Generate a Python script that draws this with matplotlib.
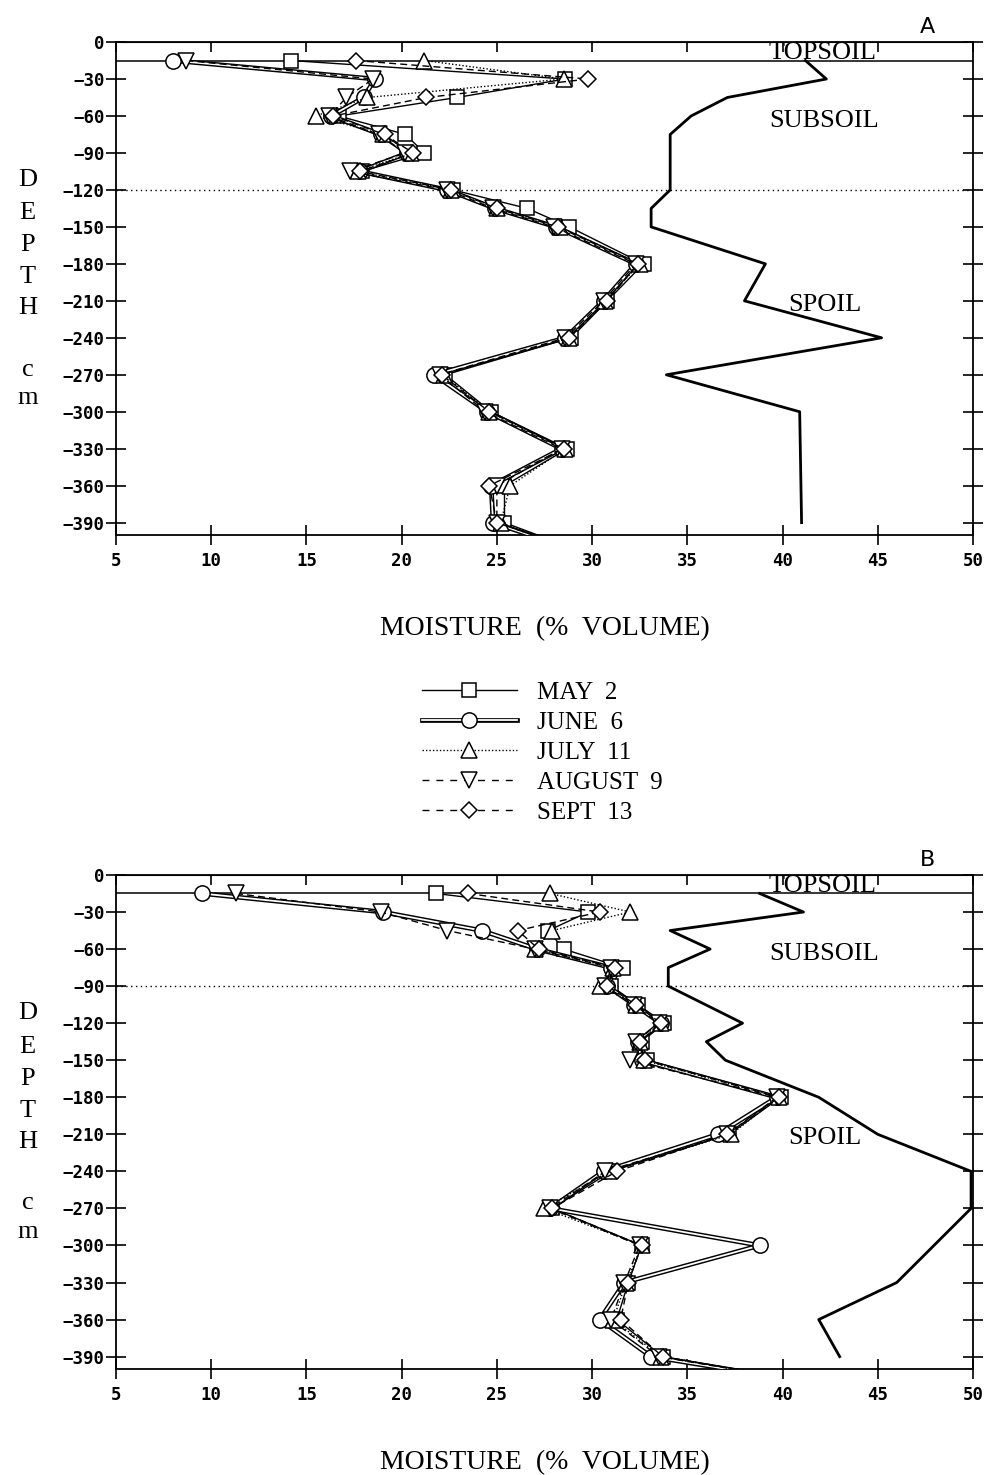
import matplotlib
matplotlib.use('Agg')
import matplotlib.pyplot as plt
from matplotlib.lines import Line2D
from matplotlib.legend_handler import HandlerTuple
import matplotlib.transforms as mtransforms

plt.rcParams['font.family'] = ['DejaVu Sans Mono']
SERIF = 'Liberation Serif'

# sampling depths (cm)
depth = [-15, -30, -45, -60, -75, -90, -105, -120, -135, -150,
         -180, -210, -240, -270, -300, -330, -360, -390, -420]

# panel A moisture (% volume)
A_may = [14.2, 28.6, 22.9, 16.7, 20.2, 21.2, 17.9, 22.7, 26.6, 28.8, 32.7, 30.8, 28.9, 22.3, 24.7, 28.7, 25.4, 25.4, 30.6]
A_june = [8.0, 18.6, 18.0, 16.3, 18.9, 20.3, 17.8, 22.4, 24.9, 28.1, 32.3, 30.6, 28.6, 21.7, 24.5, 28.4, 24.7, 24.8, 30.6]
A_july = [21.2, 28.5, 18.2, 15.5, 19.0, 20.5, 17.7, 22.6, 25.0, 28.3, 32.5, 30.7, 28.8, 22.2, 24.6, 28.6, 25.7, 25.2, 30.6]
A_aug = [8.7, 18.5, 17.1, 16.2, 18.8, 20.2, 17.3, 22.4, 24.8, 28.0, 32.3, 30.6, 28.6, 22.0, 24.4, 28.4, 25.0, 25.0, 30.6]
A_sept = [17.6, 29.8, 21.3, 16.4, 19.1, 20.6, 17.8, 22.6, 25.0, 28.2, 32.4, 30.8, 28.8, 22.1, 24.6, 28.5, 24.6, 25.0, 30.6]
A_ref_depth = [-15, -30, -45, -60, -75, -120, -135, -150, -180, -210, -240, -270, -300, -390]
A_ref = [41.2, 42.3, 37.1, 35.2, 34.1, 34.1, 33.1, 33.1, 39.1, 38.0, 45.2, 33.9, 40.9, 41.0]

# panel B moisture (% volume)
B_may = [21.8, 29.8, 27.7, 28.5, 31.6, 31.0, 32.4, 33.8, 32.6, 32.9, 39.9, 37.2, 31.0, 27.9, 32.6, 31.9, 31.3, 33.7, 45.0]
B_june = [9.5, 19.0, 24.2, 27.1, 31.0, 30.8, 32.2, 33.6, 32.4, 32.6, 39.7, 36.6, 30.6, 27.8, 38.8, 31.7, 30.4, 33.1, 45.0]
B_july = [27.8, 32.0, 27.9, 27.0, 31.1, 30.4, 32.3, 33.6, 32.5, 32.7, 39.8, 37.3, 30.9, 27.5, 32.6, 31.8, 31.1, 33.6, 45.0]
B_aug = [11.3, 18.9, 22.4, 27.0, 31.0, 30.7, 32.2, 33.5, 32.3, 32.0, 39.7, 37.1, 30.7, 27.8, 32.5, 31.7, 31.0, 33.5, 45.0]
B_sept = [23.5, 30.4, 26.1, 27.2, 31.2, 30.8, 32.3, 33.6, 32.5, 32.8, 39.8, 37.1, 31.3, 27.9, 32.6, 31.9, 31.5, 33.7, 45.0]
B_ref_depth = [-15, -30, -45, -60, -75, -90, -120, -135, -150, -180, -210, -240, -270, -330, -360, -390]
B_ref = [38.8, 41.1, 34.1, 36.2, 34.0, 34.0, 37.9, 36.0, 37.0, 41.9, 45.0, 49.9, 49.9, 46.0, 41.9, 43.0]

labels = ['MAY  2', 'JUNE  6', 'JULY  11', 'AUGUST  9', 'SEPT  13']
xticks = [5, 10, 15, 20, 25, 30, 35, 40, 45, 50]
yticks = [0, -30, -60, -90, -120, -150, -180, -210, -240, -270, -300, -330, -360, -390]

mk = dict(mfc='white', mec='black', mew=1.1)


def panel(ax, vals, ref_d, ref_v, boundary, letter):
    may, june, july, aug, sept = vals
    ax.plot(ref_v, ref_d, color='black', lw=2.0, zorder=2)
    ax.axhline(-15, color='black', lw=1.1, zorder=2)
    ax.axhline(boundary, color='black', lw=1.0, ls=(0, (1, 2.5)), zorder=2)

    ax.plot(may, depth, color='black', lw=1.0, marker='s', ms=10, zorder=3, **mk)
    ax.plot(june, depth, color='black', lw=3.4, zorder=4)
    ax.plot(june, depth, color='white', lw=1.3, zorder=4)
    ax.plot(june, depth, ls='none', marker='o', ms=11, zorder=4, **mk)
    ax.plot(july, depth, color='black', lw=1.0, ls=(0, (1, 1.5)), marker='^', ms=11, zorder=5, **mk)
    ax.plot(aug, depth, color='black', lw=1.0, ls=(0, (5, 3)), marker='v', ms=11, zorder=6, **mk)
    ax.plot(sept, depth, color='black', lw=1.0, ls=(0, (5, 3)), marker='D', ms=8, zorder=7, **mk)

    ax.set_xlim(5, 50)
    ax.set_ylim(-400, 0)
    ax.set_xticks(xticks)
    ax.set_yticks(yticks)
    for s in ax.spines.values():
        s.set_linewidth(1.3)
    ax.tick_params(axis='y', left=True, right=True, direction='inout',
                   length=14, width=1.2, labelsize=12.5, pad=1)
    ax.tick_params(axis='x', bottom=True, top=False, direction='inout',
                   length=14, width=1.2, labelsize=12.5, pad=5)
    for lbl in ax.get_xticklabels() + ax.get_yticklabels():
        lbl.set_fontweight('bold')
    top = ax.secondary_xaxis('top')
    top.set_xticks(xticks)
    top.tick_params(direction='in', length=7, width=1.2, labeltop=False)

    ax.text(42.1, -9, 'TOPSOIL', family=SERIF, size=19, ha='center', va='center', zorder=8)
    ax.text(42.2, -64, 'SUBSOIL', family=SERIF, size=19, ha='center', va='center', zorder=8)
    ax.text(42.2, -213, 'SPOIL', family=SERIF, size=19, ha='center', va='center', zorder=8)
    ax.text(0.947, 1.03, letter, transform=ax.transAxes, family='DejaVu Sans',
            size=16, ha='center', va='center')

    tr = mtransforms.blended_transform_factory(ax.transAxes, ax.transData)
    for ch, d in zip(['D', 'E', 'P', 'T', 'H', 'c', 'm'],
                     [-112, -139, -165, -191, -216, -266, -289]):
        ax.text(-0.103, d, ch, transform=tr, family=SERIF, size=19,
                ha='center', va='center')

    ax.text(0.5, -0.19, 'MOISTURE  (%  VOLUME)', transform=ax.transAxes,
            family=SERIF, size=20, ha='center', va='center')


fig = plt.figure(figsize=(9.87, 14.75), dpi=100)
axA = fig.add_axes([0.1175, 0.6373, 0.8683, 0.3342])
axB = fig.add_axes([0.1175, 0.0719, 0.8683, 0.3349])

panel(axA, [A_may, A_june, A_july, A_aug, A_sept], A_ref_depth, A_ref, -120, 'A')
panel(axB, [B_may, B_june, B_july, B_aug, B_sept], B_ref_depth, B_ref, -90, 'B')

handles = [
    Line2D([], [], color='black', lw=1.0, marker='s', ms=10, **mk),
    (Line2D([], [], color='black', lw=3.4), Line2D([], [], color='white', lw=1.3),
     Line2D([], [], ls='none', marker='o', ms=11, **mk)),
    Line2D([], [], color='black', lw=1.0, ls=(0, (1, 1.5)), marker='^', ms=11, **mk),
    Line2D([], [], color='black', lw=1.0, ls=(0, (5, 5)), marker='v', ms=11, **mk),
    Line2D([], [], color='black', lw=1.0, ls=(0, (5, 5)), marker='D', ms=8, **mk),
]
fig.legend(handles, labels, handler_map={tuple: HandlerTuple(ndivide=1)},
           loc='center', bbox_to_anchor=(0.549, 0.4895), frameon=False,
           handlelength=3.8, handletextpad=0.8, labelspacing=0.3,
           prop={'family': SERIF, 'size': 18})

fig.savefig('out.png', dpi=100)
